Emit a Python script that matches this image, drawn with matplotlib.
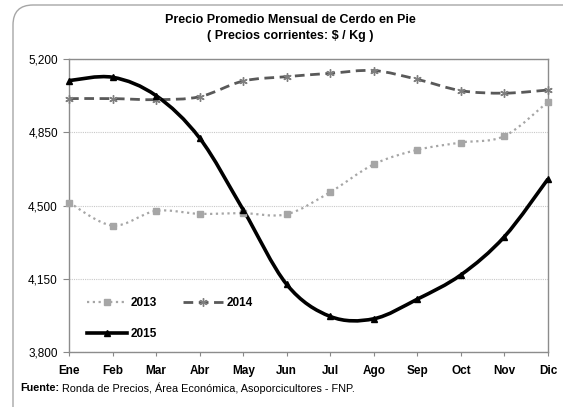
import numpy as np
import matplotlib
matplotlib.use('Agg')
import matplotlib.pyplot as plt
from matplotlib.path import Path
from matplotlib.patches import PathPatch, FancyBboxPatch
from matplotlib.lines import Line2D
from matplotlib.transforms import offset_copy

plt.rcParams['font.family'] = ['Liberation Sans', 'DejaVu Sans']

months = ['Ene', 'Feb', 'Mar', 'Abr', 'May', 'Jun', 'Jul', 'Ago', 'Sep', 'Oct', 'Nov', 'Dic']
p2013 = [4515, 4405, 4475, 4461, 4464, 4459, 4565, 4698, 4767, 4802, 4833, 4997]
p2014 = [5012, 5012, 5007, 5021, 5096, 5117, 5133, 5146, 5104, 5050, 5038, 5053]
p2015 = [5098, 5114, 5026, 4823, 4480, 4123, 3970, 3959, 4053, 4169, 4352, 4628]
yticks = [3800, 4150, 4500, 4850, 5200]


def smooth_path(x, y):
    # Excel-like smoothed line: Catmull-Rom segments as cubic Bezier curves
    pts = np.column_stack([x, y]).astype(float)
    n = len(pts)
    verts = [pts[0]]
    codes = [Path.MOVETO]
    for i in range(n - 1):
        p0 = pts[max(i - 1, 0)]
        p1 = pts[i]
        p2 = pts[i + 1]
        p3 = pts[min(i + 2, n - 1)]
        c1 = p1 + (p2 - p0) / 6.0
        c2 = p2 - (p3 - p1) / 6.0
        verts += [c1, c2, p2]
        codes += [Path.CURVE4] * 3
    return Path(verts, codes)


fig = plt.figure(figsize=(5.63, 4.07), dpi=100)
ax = fig.add_axes([0.1226, 0.1351, 0.8508, 0.7192])

x = np.arange(len(months))

series = [
    (p2013, dict(color='#a6a6a6', lw=1.6, ls=(0, (1, 1.6))), dict(marker='s', ms=5, mfc='#a6a6a6', mec='#a6a6a6'), '2013'),
    (p2014, dict(color='#595959', lw=2.0, ls=(0, (3.5, 2))), dict(marker=(6, 2, 0), ms=6, mfc='#7f7f7f', mec='#7f7f7f', mew=1.0), '2014'),
    (p2015, dict(color='black', lw=2.6, ls='-'), dict(marker='^', ms=4.5, mfc='black', mec='black'), '2015'),
]

handles = {}
for vals, lstyle, mstyle, name in series:
    patch = PathPatch(smooth_path(x, vals), facecolor='none', edgecolor=lstyle['color'],
                      lw=lstyle['lw'], ls=lstyle['ls'], capstyle='butt', zorder=3)
    ax.add_patch(patch)
    ax.plot(x, vals, ls='none', zorder=4, clip_on=False, **mstyle)
    handles[name] = Line2D([], [], color=lstyle['color'], lw=lstyle['lw'], ls=lstyle['ls'], **mstyle)

ax.set_xlim(0, 11)
ax.set_ylim(3800, 5200)
ax.set_yticks(yticks)
ax.set_yticklabels([f'{v:,}' for v in yticks], fontsize=8.5)
ax.set_xticks(x)
ax.set_xticklabels(months, fontsize=8.5, fontweight='bold')
ax.tick_params(axis='x', length=3, color='#888888', pad=6)
ax.tick_params(axis='y', length=4, color='#888888', pad=4)
ax.yaxis.grid(True, ls=(0, (1, 1)), color='#c8c8c8', lw=0.8)
ax.set_axisbelow(True)
for s in ax.spines.values():
    s.set_color('#8c8c8c')
    s.set_linewidth(1.0)

leg = ax.legend([handles['2013'], handles['2015'], handles['2014']], ['2013', '2015', '2014'],
                ncol=2, loc='lower left', bbox_to_anchor=(0.015, 0.004), frameon=False,
                prop={'weight': 'bold', 'size': 8.5}, handlelength=3.4, columnspacing=2.2,
                labelspacing=1.6, handletextpad=0.3)

fig.text(0.515, 0.950, 'Precio Promedio Mensual de Cerdo en Pie', ha='center', va='center',
         fontsize=9, fontweight='bold')
fig.text(0.515, 0.911, '( Precios corrientes: $ / Kg )', ha='center', va='center',
         fontsize=9, fontweight='bold')

src = fig.text(0.036, 0.046, 'Fuente:', fontsize=7.8, fontweight='bold', va='center')
renderer = fig.canvas.get_renderer()
w = src.get_window_extent(renderer).width
fig.text(0.036, 0.046, ' Ronda de Precios, Área Económica, Asoporcicultores - FNP.', fontsize=7.8,
         va='center', transform=offset_copy(fig.transFigure, fig=fig, x=w, y=0, units='dots'))

frame = FancyBboxPatch((0.13, -0.3), 6.0, 4.02 + 0.3, boxstyle='round,pad=0,rounding_size=0.2',
                       transform=fig.dpi_scale_trans, facecolor='none', edgecolor='#a6a6a6',
                       lw=1.0, clip_on=False)
fig.patches.append(frame)

fig.savefig('out.png', dpi=100)
